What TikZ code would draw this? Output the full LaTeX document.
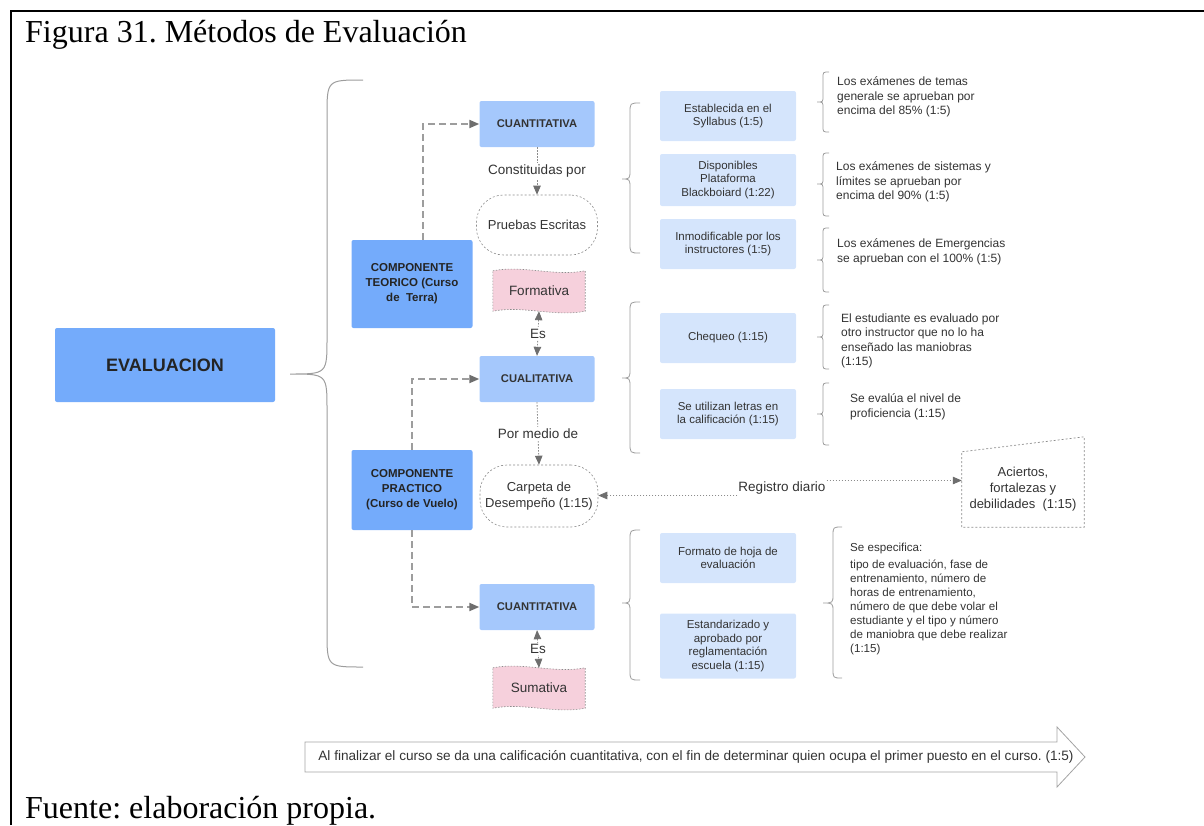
\documentclass[tikz,border=0pt]{standalone}
\usepackage{fontspec}
\setmainfont{Liberation Serif}
\newfontfamily\diag{Liberation Sans}
\usetikzlibrary{arrows.meta,calc,backgrounds}
\frenchspacing
\definecolor{bigblue}{HTML}{74ABFB}
\definecolor{midblue}{HTML}{A5C8FC}
\definecolor{lightblue}{HTML}{D5E5FC}
\definecolor{pinkf}{HTML}{F6D0DC}
\definecolor{txt}{HTML}{333333}
\definecolor{ln}{HTML}{8C8C8C}
\definecolor{arr}{HTML}{6E6E6E}
\newcommand\fs[2]{\fontsize{#1}{#2}\selectfont}
\newcommand\mybrace[7]{\draw[braceline,#7] (#1+#6,#2) .. controls (#1,#2) .. (#1,#2+#6) -- (#1,#4-#6) .. controls (#1,#4) .. (#5,#4) .. controls (#1,#4) .. (#1,#4+#6) -- (#1,#3-#6) .. controls (#1,#3) .. (#1+#6,#3);}
\newcommand\flagshape[1]{\draw[flagline] (#1.north west) .. controls ($(#1.north west)!0.33!(#1.north east)+(0,-6)$) and ($(#1.north west)!0.67!(#1.north east)+(0,6)$) .. (#1.north east) -- (#1.south east) .. controls ($(#1.south west)!0.67!(#1.south east)+(0,6)$) and ($(#1.south west)!0.33!(#1.south east)+(0,-6)$) .. (#1.south west) -- cycle;}
\begin{document}
\begin{tikzpicture}[x=1pt,y=-1pt,
  bigbox/.style={fill=bigblue, rounded corners=2pt, align=center, text=txt!70!black, font=\diag\bfseries\fs{11.5}{15}},
  midbox/.style={fill=midblue, rounded corners=2pt, minimum width=115pt, minimum height=46pt, align=center, text=txt, font=\diag\bfseries\fs{11.2}{13}},
  libox/.style={fill=lightblue, rounded corners=2pt, minimum width=136pt, minimum height=50pt, align=center, text=txt, font=\diag\fs{11.5}{13.5}},
  pill/.style={draw=ln, line width=0.6pt, dash pattern=on 2pt off 2pt, rounded corners=27pt, align=center, text=txt, font=\diag\fs{13}{16.5}},
  flagnode/.style={minimum width=92pt, minimum height=40pt, text=txt, font=\diag\fs{13.5}{16}},
  flagline/.style={draw=ln, fill=pinkf, line width=0.6pt, dash pattern=on 1.5pt off 1.5pt},
  btxt/.style={anchor=west, align=left, inner sep=0pt, text=txt, font=\diag\fs{12}{14.5}},
  lbl/.style={fill=white, inner sep=1.5pt, text=txt, font=\diag\fs{13.5}{16}},
  braceline/.style={draw=ln!85, line width=0.8pt},
  dasharr/.style={draw=ln!85, line width=2pt, dash pattern=on 7pt off 4pt, -{Triangle[length=10pt,width=8pt,color=arr]}},
  dotarr/.style={draw=ln, line width=0.8pt, dash pattern=on 1.5pt off 1.5pt, -{Triangle[length=9pt,width=7.5pt,color=arr]}},
  dotdbl/.style={draw=ln, line width=0.8pt, dash pattern=on 1.5pt off 1.5pt, {Triangle[length=9pt,width=7.5pt,color=arr]}-{Triangle[length=9pt,width=7.5pt,color=arr]}}
]
\useasboundingbox (0,0) rectangle (1204,825);
% frame and captions
\draw[line width=2pt] (11,825) -- (11,11) -- (1204,11);
\node[anchor=base west, inner sep=0pt, font=\fs{32}{34}] (title) at (25,42) {Figura 31. Métodos de Evaluación};
\node[anchor=base west, inner sep=0pt, font=\fs{32}{34}] (fuente) at (25,818) {Fuente: elaboración propia.};

% main boxes
\node[bigbox, minimum width=220pt, minimum height=74pt, font=\diag\bfseries\fs{18}{20}] (eval) at (165,365) {EVALUACION};
\node[bigbox, minimum width=121pt, minimum height=88pt] (teo) at (412,284) {COMPONENTE\\TEORICO (Curso\\de~~Terra)};
\node[bigbox, minimum width=121pt, minimum height=80pt] (pra) at (412,490) {COMPONENTE\\PRACTICO\\(Curso de Vuelo)};

\node[midbox] (cuan1) at (537,124) {CUANTITATIVA};
\node[midbox] (cual) at (537,379) {CUALITATIVA};
\node[midbox] (cuan2) at (537,607) {CUANTITATIVA};

\node[pill, minimum width=121pt, minimum height=60pt] (pruebas) at (537,225) {Pruebas Escritas};
\node[pill, minimum width=118pt, minimum height=62pt] (carpeta) at (539,496) {Carpeta de\\Desempeño (1:15)};

\node[flagnode] (form) at (539,291) {Formativa};
\node[flagnode] (suma) at (539,688) {Sumativa};
\begin{pgfonlayer}{background}
\flagshape{form}
\flagshape{suma}
\end{pgfonlayer}

% big brace
\mybrace{327}{80}{667}{374}{290}{36}{line width=1pt}

% connectors from components
\draw[dasharr] ([xshift=11pt]teo.north) |- (cuan1.west);
\draw[dasharr] (pra.north) |- (cual.west);
\draw[dasharr] (pra.south) |- (cuan2.west);

\draw[dotarr] (cuan1.south) -- node[lbl] {Constituidas por} (pruebas.north);
\draw[dotdbl] (form.south) -- node[lbl] {Es} (cual.north);
\draw[dotarr] (cual.south) -- node[lbl] {Por medio de} (carpeta.north);
\draw[dotdbl] (cuan2.south) -- node[lbl] {Es} (suma.north);

% registro diario
\node[lbl, inner sep=1pt] (reg) at (782,488) {Registro diario};
\node[align=center, minimum width=122pt, minimum height=75pt, text=txt, font=\diag\fs{13}{16}] (acier) at (1023,489.5) {Aciertos,\\fortalezas y\\debilidades~~(1:15)};
\draw[draw=ln, line width=0.7pt, dash pattern=on 2pt off 2pt] (acier.south west) -- (acier.north west) -- ($(acier.north east)+(0,-15)$) -- (acier.south east) -- cycle;
\draw[dotarr] (reg.south west) -- (carpeta.east |- reg.south west);
\draw[dotarr] (reg.north east) -- (acier.west |- reg.north east);

% column braces
\mybrace{630}{103}{253}{179}{622}{10}{}
\mybrace{630}{302}{453}{378}{622}{10}{}
\mybrace{630}{530}{680}{603}{622}{10}{}

% light boxes
\node[libox] (b1) at (728,116) {Establecida en el\\Syllabus (1:5)};
\node[libox, minimum height=52pt] (b2) at (728,180) {Disponibles\\Plataforma\\Blackboiard (1:22)};
\node[libox] (b3) at (728,244) {Inmodificable por los\\instructores (1:5)};
\node[libox] (b4) at (728,338) {Chequeo (1:15)};
\node[libox] (b5) at (728,414) {Se utilizan letras en\\la calificación (1:15)};
\node[libox] (b6) at (728,558) {Formato de hoja de\\evaluación};
\node[libox, minimum height=65pt] (b7) at (728,646) {Estandarizado y\\aprobado por\\reglamentación\\escuela (1:15)};

% small braces
\mybrace{823}{72}{132}{102}{817}{6}{}
\mybrace{823}{153}{216}{184}{817}{6}{}
\mybrace{823}{228}{292}{260}{817}{6}{}
\mybrace{823}{305}{369}{337}{817}{6}{}
\mybrace{823}{383}{445}{414}{817}{6}{}
\mybrace{833}{527}{678}{603}{823}{9}{}

% brace texts
\node[btxt] (t1) at (837,97) {Los exámenes de temas\\generale se aprueban por\\encima del 85\% (1:5)};
\node[btxt] (t2) at (836,182) {Los exámenes de sistemas y\\límites se aprueban por\\encima del 90\% (1:5)};
\node[btxt] (t3) at (837,252) {Los exámenes de Emergencias\\se aprueban con el 100\% (1:5)};
\node[btxt] (t4) at (841,341) {El estudiante es evaluado por\\otro instructor que no lo ha\\enseñado las maniobras\\(1:15)};
\node[btxt] (t5) at (850,407) {Se evalúa el nivel de\\proficiencia (1:15)};
\node[btxt, font=\diag\fs{11.6}{14}] (t6) at (850,599) {Se especifica:\\[3pt]tipo de evaluación, fase de\\entrenamiento, número de\\horas de entrenamiento,\\número de que debe volar el\\estudiante y el tipo y número\\de maniobra que debe realizar\\(1:15)};

% bottom block arrow
\draw[draw=ln!80, line width=0.8pt] (305,742) -- (1057,742) -- (1057,727) -- (1085,757) -- (1057,787) -- (1057,772) -- (305,772) -- cycle;
\node[text=txt, font=\diag\fs{13.6}{15}, inner sep=0pt] (fin) at (696,757) {Al finalizar el curso se da una calificación cuantitativa, con el fin de determinar quien ocupa el primer puesto en el curso. (1:5)};
\end{tikzpicture}
\end{document}
